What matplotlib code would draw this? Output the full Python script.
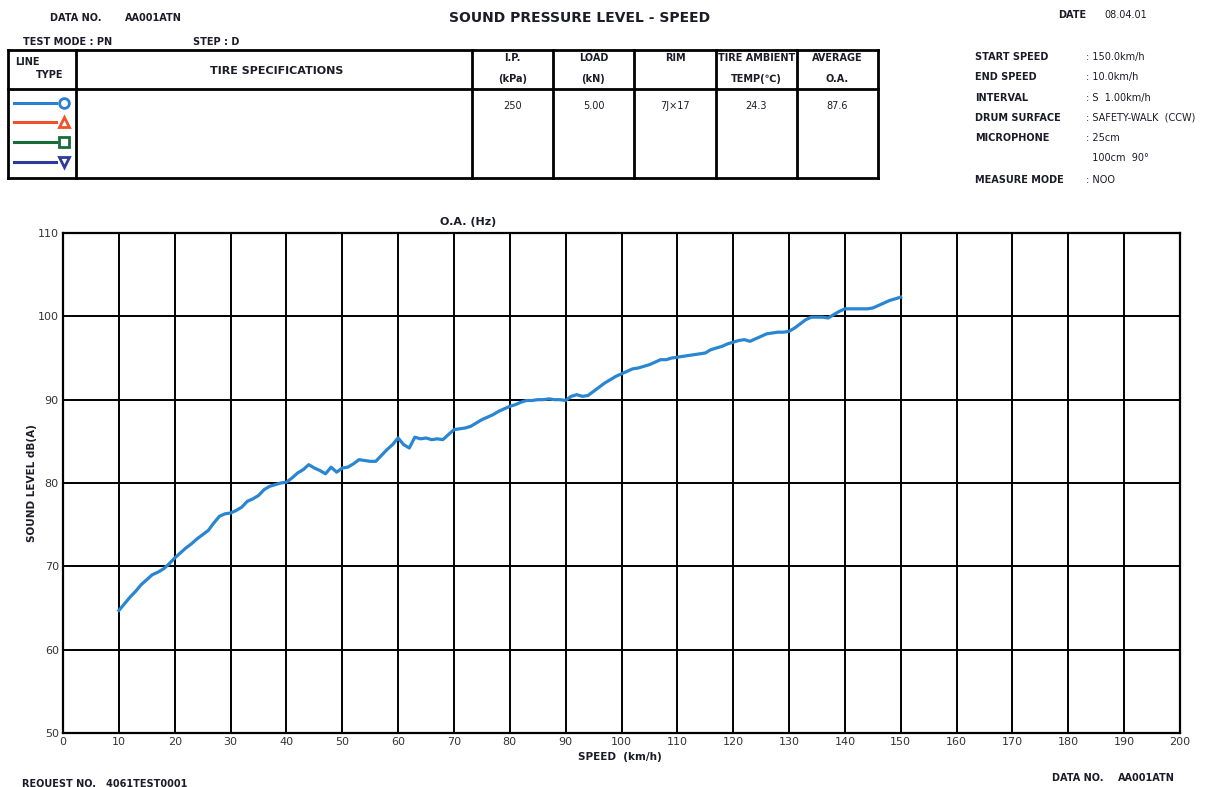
import matplotlib
matplotlib.use("Agg")
import matplotlib.pyplot as plt
from matplotlib.lines import Line2D

# --- data ---
speed = list(range(10, 151))
level = [64.7, 65.5, 66.3, 67.0, 67.8, 68.4, 69.0, 69.3, 69.7, 70.3,
         71.0, 71.6, 72.2, 72.7, 73.3, 73.8, 74.3, 75.2, 76.0, 76.3,
         76.4, 76.7, 77.1, 77.8, 78.1, 78.5, 79.2, 79.6, 79.8, 80.0,
         80.1, 80.6, 81.2, 81.6, 82.2, 81.8, 81.5, 81.1, 81.9, 81.3,
         81.8, 81.9, 82.3, 82.8, 82.7, 82.6, 82.6, 83.3, 84.0, 84.6,
         85.4, 84.6, 84.2, 85.5, 85.3, 85.4, 85.2, 85.3, 85.2, 85.8,
         86.4, 86.5, 86.6, 86.8, 87.2, 87.6, 87.9, 88.2, 88.6, 88.9,
         89.2, 89.4, 89.7, 89.9, 89.9, 90.0, 90.0, 90.1, 90.0, 90.0,
         89.9, 90.4, 90.6, 90.4, 90.5, 91.0, 91.5, 92.0, 92.4, 92.8,
         93.1, 93.4, 93.7, 93.8, 94.0, 94.2, 94.5, 94.8, 94.8, 95.0,
         95.1, 95.2, 95.3, 95.4, 95.5, 95.6, 96.0, 96.2, 96.4, 96.7,
         96.9, 97.1, 97.2, 97.0, 97.3, 97.6, 97.9, 98.0, 98.1, 98.1,
         98.2, 98.6, 99.1, 99.6, 99.9, 99.9, 99.9, 99.8, 100.2, 100.6,
         100.9, 100.9, 100.9, 100.9, 100.9, 101.0, 101.3, 101.6, 101.9, 102.1,
         102.3]

xticks = list(range(0, 201, 10))
yticks = list(range(50, 111, 10))

table_head = [("I.P.", "(kPa)"), ("LOAD", "(kN)"), ("RIM", ""),
              ("TIRE AMBIENT", "TEMP(℃)"), ("AVERAGE", "O.A.")]
table_vals = ["250", "5.00", "7J×17", "24.3", "87.6"]

info_labels = ["START SPEED", "END SPEED", "INTERVAL", "DRUM SURFACE",
               "MICROPHONE", "", "MEASURE MODE"]
info_values = [": 150.0km/h", ": 10.0km/h", ": S  1.00km/h",
               ": SAFETY-WALK  (CCW)", ": 25cm", "  100cm  90°", ": NOO"]

W, H = 1215, 787
plt.rcParams['font.family'] = ['Liberation Sans Narrow', 'DejaVu Sans']
ink = '#1c1c28'

fig = plt.figure(figsize=(W / 100, H / 100), dpi=100)


def px(x, y):
    return x / W, 1 - y / H


def txt(x, y, s, size=7, ha='left', weight='bold', **kw):
    fig.text(*px(x, y), s, fontsize=size, ha=ha, va='center',
             weight=weight, color=ink, **kw)


def hline(x0, x1, y, lw=2):
    fig.add_artist(Line2D([x0 / W, x1 / W], [1 - y / H, 1 - y / H],
                          color='black', lw=lw))


def vline(x, y0, y1, lw=2):
    fig.add_artist(Line2D([x / W, x / W], [1 - y0 / H, 1 - y1 / H],
                          color='black', lw=lw))


# --- header ---
txt(50, 18, "DATA NO.")
txt(125, 18, "AA001ATN")
txt(580, 18, "SOUND PRESSURE LEVEL - SPEED", size=10, ha='center')
txt(1058, 15, "DATE")
txt(1104, 15, "08.04.01", weight='normal')
txt(23, 42, "TEST MODE : PN")
txt(193, 42, "STEP : D")

# --- table ---
top, mid, bot = 50, 89, 178
cols = [8, 76, 472, 553, 634, 716, 797, 878]
hline(8, 878, top)
hline(8, 878, mid)
hline(8, 878, bot)
for c in cols:
    vline(c, top, bot)

txt(15, 62, "LINE")
txt(36, 75, "TYPE")
txt(210, 71, "TIRE SPECIFICATIONS", size=8)
for i, (a, b) in enumerate(table_head):
    cx = (cols[i + 2] + cols[i + 3]) / 2
    txt(cx, 58, a, ha='center')
    if b:
        txt(cx, 79, b, ha='center')
    txt(cx, 106, table_vals[i], ha='center', weight='normal')

# legend line types
legend_styles = [('#2a7fd4', 'o', 103), ('#f0502a', '^', 122),
                 ('#1a6b3a', 's', 142), ('#2a3aa0', 'v', 162)]
for col, mk, y in legend_styles:
    fig.add_artist(Line2D([14 / W, 56 / W], [1 - y / H, 1 - y / H],
                          color=col, lw=2.2))
    fig.add_artist(Line2D([64 / W], [1 - y / H], color=col, marker=mk,
                          markersize=7, markerfacecolor='none',
                          markeredgewidth=2))

# right-hand info block
info_y = [57, 77, 98, 118, 138, 158, 180]
for lab, val, y in zip(info_labels, info_values, info_y):
    if lab:
        txt(975, y, lab)
    txt(1086, y, val, weight='normal')

# --- chart ---
ax = fig.add_axes([63 / W, 1 - 733 / H, (1180 - 63) / W, (733 - 233) / H])
ax.plot(speed, level, color='#2a86d1', lw=2.3, solid_joinstyle='round')
ax.set_xlim(0, 200)
ax.set_ylim(50, 110)
ax.set_xticks(xticks)
ax.set_yticks(yticks)
ax.grid(True, color='black', lw=1.4)
ax.set_axisbelow(True)
for s in ax.spines.values():
    s.set_linewidth(1.6)
ax.tick_params(length=0, labelsize=8, colors='#333333', pad=3)

txt(440, 222, "O.A. (Hz)", size=8)
fig.text(*px(32, 483), "SOUND LEVEL dB(A)", rotation=90, fontsize=7.5,
         ha='center', va='center', color=ink, weight='bold')
txt(620, 757, "SPEED  (km/h)", size=7.5, ha='center')
txt(22, 784, "REQUEST NO.   4061TEST0001")
txt(1052, 778, "DATA NO.")
txt(1118, 778, "AA001ATN")

fig.savefig("out.png", dpi=100)
